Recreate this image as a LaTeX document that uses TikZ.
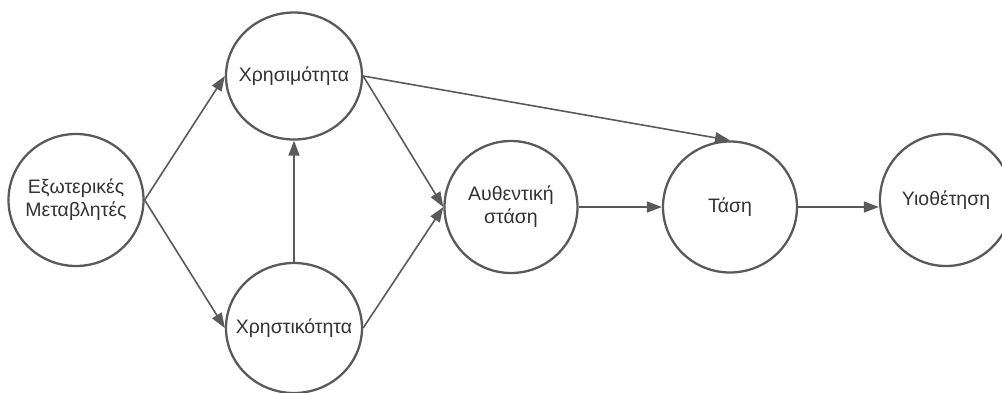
\documentclass[tikz,border=0pt]{standalone}
\usepackage{fontspec}
\setmainfont{Liberation Sans}
\usetikzlibrary{arrows.meta,shapes.geometric}
\definecolor{edgegrey}{HTML}{5A5A5A}
\definecolor{ink}{HTML}{333333}
\begin{document}
\begin{tikzpicture}[x=1pt,y=-1pt,
  concept/.style={ellipse, draw=edgegrey, line width=2.3pt, fill=white,
    inner xsep=-30pt, inner ysep=0pt, minimum width=134pt, minimum height=131pt,
    text=ink, align=center, font=\fontsize{19.5}{23}\selectfont},
  link/.style={draw=edgegrey, line width=1.6pt,
    -{Triangle[length=15pt,width=11pt]}}]
  \useasboundingbox (0,0) rectangle (1002,392);
  \clip (0,0) rectangle (1002,392);

  % factors
  \node[concept, minimum width=135pt, minimum height=132pt] (ext) at (76,200) {Εξωτερικές\\Μεταβλητές};
  \node[concept, minimum width=136pt, minimum height=127pt] (use) at (294,76) {Χρησιμότητα};
  \node[concept, minimum width=136pt, minimum height=130pt] (usab) at (294,328) {Χρηστικότητα};
  \node[concept, minimum width=133pt, minimum height=132pt] (auth) at (511,207) {Αυθεντική\\στάση};
  \node[concept] (trend) at (730,207) {Τάση};
  \node[concept, minimum width=132pt, minimum height=132pt] (adopt) at (946,200) {Υιοθέτηση};

  % relations
  \draw[link] (ext.east) -- (use.west);
  \draw[link] (ext.east) -- (usab.west);
  \draw[link] (usab.north) -- (use.south);
  \draw[link] (use.east) -- (auth.west);
  \draw[link] (usab.east) -- (auth.west);
  \draw[link] (use.east) -- (trend.north);
  \draw[link] (auth.east) -- (trend.west);
  \draw[link] (trend.east) -- (adopt.west |- trend.east);
\end{tikzpicture}
\end{document}
